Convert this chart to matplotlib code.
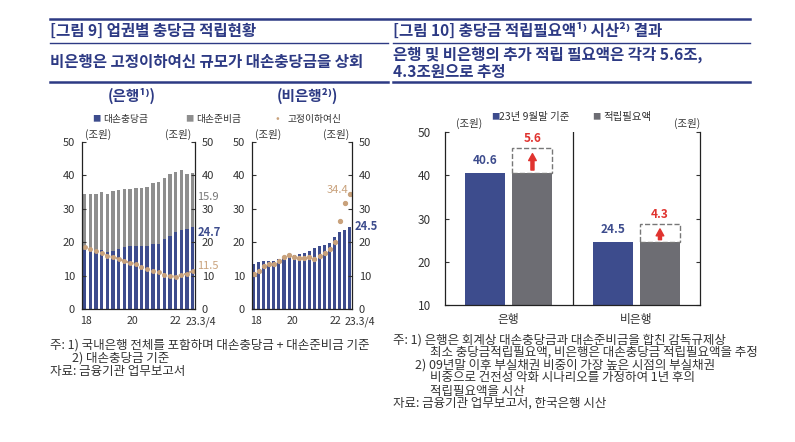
import numpy as np
import matplotlib.pyplot as plt
from matplotlib.lines import Line2D

plt.rcParams['font.family'] = ['Noto Sans CJK KR', 'DejaVu Sans']

W, H = 795, 442

# [그림 9] quarterly, 18 ~ 23.3/4 (조원)
bank_total = [34.5, 34.5, 34.5, 35.0, 34.5, 35.4, 35.5, 35.8, 36.0, 36.2,
              36.3, 36.5, 37.7, 38.0, 39.2, 40.5, 41.0, 41.5, 40.3, 40.6]
bank_allow = [17.8, 17.5, 17.5, 17.8, 17.0, 17.5, 18.0, 18.5, 19.0, 19.0,
              19.0, 18.8, 19.5, 19.5, 21.0, 22.0, 23.0, 23.8, 24.0, 24.7]
bank_npl = [18.5, 18.0, 17.3, 16.8, 16.0, 15.5, 15.0, 14.3, 13.8, 13.5,
            12.5, 12.0, 11.5, 11.0, 10.3, 9.8, 9.7, 10.2, 10.6, 11.5]
nonbank_allow = [13.5, 14.0, 14.3, 14.5, 14.5, 15.0, 15.5, 16.3, 16.3, 16.5,
                 16.8, 17.3, 18.2, 18.8, 19.2, 19.8, 21.7, 23.0, 23.8, 24.5]
nonbank_npl = [10.4, 11.5, 12.9, 13.4, 13.5, 14.5, 15.5, 16.2, 15.5, 15.2,
               15.2, 15.5, 15.0, 15.9, 16.7, 17.9, 20.2, 26.4, 31.6, 34.4]
x_tick_labels = ['18', '20', '22', '23.3/4']

# [그림 10]
groups = ['은행', '비은행']
current = [40.6, 24.5]
additional = [5.6, 4.3]

NAVY = '#3D4C8D'
GRAY = '#8E8E8E'
DGRAY = '#6D6D73'
TAN = '#C9A27C'
RED = '#E0332F'
TITLE = '#2D3A84'
TXT = '#333333'

fig = plt.figure(figsize=(W / 100, H / 100), dpi=100)


def px_axes(l, t, r, b):
    return fig.add_axes([l / W, 1 - b / H, (r - l) / W, (b - t) / H])


def ftext(x, y, s, **kw):
    kw.setdefault('va', 'center')
    kw.setdefault('color', TXT)
    fig.text(x / W, 1 - y / H, s, **kw)


def hline(x1, x2, y, lw, color=TITLE):
    fig.add_artist(Line2D([x1 / W, x2 / W], [1 - y / H, 1 - y / H], color=color, lw=lw))


# header boxes
hline(50, 750, 19, 1.8)
hline(50, 388, 43, 1.0)
hline(393, 750, 43, 1.0)
hline(50, 388, 82, 1.8)
hline(393, 750, 82, 1.8)

TF = 11.2
ftext(50, 31, '[그림 9] 업권별 충당금 적립현황', fontsize=TF, fontweight='bold', color=TITLE)
ftext(50, 62, '비은행은 고정이하여신 규모가 대손충당금을 상회', fontsize=TF, fontweight='bold', color=TITLE)
ftext(393, 31, '[그림 10] 충당금 적립필요액¹⁾ 시산²⁾ 결과', fontsize=TF, fontweight='bold', color=TITLE)
ftext(393, 55, '은행 및 비은행의 추가 적립 필요액은 각각 5.6조,', fontsize=TF, fontweight='bold', color=TITLE)
ftext(393, 72, '4.3조원으로 추정', fontsize=TF, fontweight='bold', color=TITLE)

# left panel headings and legend
ftext(132, 96, '(은행¹⁾)', fontsize=10.5, fontweight='bold', color=TITLE, ha='center')
ftext(307, 96, '(비은행²⁾)', fontsize=10.5, fontweight='bold', color=TITLE, ha='center')
ftext(92, 119, '■', fontsize=6, color=NAVY)
ftext(103, 119, '대손충당금', fontsize=7)
ftext(185, 119, '■', fontsize=6, color=GRAY)
ftext(196, 119, '대손준비금', fontsize=7)
ftext(276, 119, '•', fontsize=8, color=TAN)
ftext(287, 119, '고정이하여신', fontsize=7)


def style_left(ax, xlim, label_pos):
    ax.set_ylim(0, 50)
    ax.set_xlim(*xlim)
    ax.set_yticks(range(0, 51, 10))
    ax.set_xticks([])
    for p, lab in zip(label_pos, x_tick_labels):
        ax.text(p, -2.2, lab, ha='center', va='top', fontsize=7.6, color=TXT)
    ax.spines['top'].set_visible(False)
    for s in ['left', 'right', 'bottom']:
        ax.spines[s].set_color('#222222')
        ax.spines[s].set_linewidth(0.9)
    ax.tick_params(axis='y', direction='in', length=3, labelsize=8, colors=TXT,
                   right=True, labelright=True, pad=5)
    ax.text(0.03, 1.01, '(조원)', transform=ax.transAxes, fontsize=7.5, color=TXT, va='bottom')
    ax.text(0.97, 1.01, '(조원)', transform=ax.transAxes, fontsize=7.5, color=TXT, va='bottom', ha='right')


# 은행
ax1 = px_axes(82, 142, 195, 309)
x = np.arange(len(bank_total))
reserve = np.array(bank_total) - np.array(bank_allow)
ax1.bar(x, bank_allow, width=0.6, color=NAVY)
ax1.bar(x, reserve, bottom=bank_allow, width=0.6, color=GRAY)
ax1.plot(x, bank_npl, ls=':', lw=1.5, color=TAN, marker='o', ms=2.5)
style_left(ax1, (-0.45, 19.4), [0.3, 8.4, 15.9, 20.4])
ax1.text(1.02, 33.6, '15.9', transform=ax1.get_yaxis_transform(), fontsize=8, color='#777777', va='center')
ax1.text(1.02, 23.0, '24.7', transform=ax1.get_yaxis_transform(), fontsize=8, color=NAVY, va='center', fontweight='bold')
ax1.text(1.02, 12.8, '11.5', transform=ax1.get_yaxis_transform(), fontsize=8, color=TAN, va='center')

# 비은행
ax2 = px_axes(252, 142, 352, 309)
x2 = np.arange(len(nonbank_allow))
ax2.bar(x2, nonbank_allow, width=0.6, color=NAVY)
ax2.plot(x2, nonbank_npl, ls='none', color=TAN, marker='o', ms=2.8)
style_left(ax2, (-0.3, 19.4), [0.45, 7.7, 16.1, 21.0])
ax2.text(18.6, 35.5, '34.4', fontsize=8, color=TAN, ha='right', va='center')
ax2.text(1.03, 24.8, '24.5', transform=ax2.get_yaxis_transform(), fontsize=8, color=NAVY, va='center', fontweight='bold')

# 그림 10
ax3 = px_axes(445, 132, 700, 305)
gx = np.arange(len(groups))
off, bw = 0.186, 0.314
ax3.bar(gx - off, current, width=bw, color=NAVY)
ax3.bar(gx + off, current, width=bw, color=DGRAY)
ax3.bar(gx + off, additional, bottom=current, width=bw, fill=False,
        edgecolor='#777777', linestyle='--', lw=1.0)
for i in range(len(groups)):
    ax3.text(gx[i] - off, current[i] + 1.4, f'{current[i]:.1f}', ha='center', va='bottom',
             fontsize=8.5, fontweight='bold', color=NAVY)
    top = current[i] + additional[i]
    ax3.text(gx[i] + off, top + 0.7, f'{additional[i]:.1f}', ha='center', va='bottom',
             fontsize=8.5, fontweight='bold', color=RED)
    ax3.annotate('', xy=(gx[i] + off, top - 1.2), xytext=(gx[i] + off, current[i] + 0.6),
                 arrowprops=dict(arrowstyle='simple,head_length=0.5,head_width=0.55,tail_width=0.22',
                                 color=RED, shrinkA=0, shrinkB=0))
ax3.axvline(0.5, color='#222222', lw=0.9)
ax3.set_xlim(-0.5, 1.5)
ax3.set_ylim(10, 50)
ax3.set_yticks(range(10, 51, 10))
ax3.set_xticks(gx)
ax3.set_xticklabels(groups)
ax3.spines['top'].set_visible(False)
for s in ['left', 'right', 'bottom']:
    ax3.spines[s].set_color('#222222')
    ax3.spines[s].set_linewidth(0.9)
ax3.tick_params(axis='y', direction='in', length=3, labelsize=8.5, colors=TXT,
                right=True, labelright=False, pad=10)
ax3.tick_params(axis='x', length=0, labelsize=8.5, colors=TXT, pad=6)
ax3.text(0.045, 1.02, '(조원)', transform=ax3.transAxes, fontsize=7.5, color=TXT, va='bottom')
ax3.text(1.0, 1.02, '(조원)', transform=ax3.transAxes, fontsize=7.5, color=TXT, va='bottom', ha='right')
ftext(491, 117, '■', fontsize=6, color=NAVY)
ftext(499, 117, '23년 9월말 기준', fontsize=7.5)
ftext(592, 117, '■', fontsize=6, color=DGRAY)
ftext(603, 117, '적립필요액', fontsize=7.5)

# notes
NF = 9
ftext(50, 345, '주: 1) 국내은행 전체를 포함하며 대손충당금 + 대손준비금 기준', fontsize=NF)
ftext(72, 358, '2) 대손충당금 기준', fontsize=NF)
ftext(50, 371, '자료: 금융기관 업무보고서', fontsize=NF)

ftext(393, 340, '주: 1) 은행은 회계상 대손충당금과 대손준비금을 합친 감독규제상', fontsize=NF)
ftext(430, 352, '최소 충당금적립필요액, 비은행은 대손충당금 적립필요액을 추정', fontsize=NF)
ftext(415, 365, '2) 09년말 이후 부실채권 비중이 가장 높은 시점의 부실채권', fontsize=NF)
ftext(430, 378, '비중으로 건전성 악화 시나리오를 가정하여 1년 후의', fontsize=NF)
ftext(430, 391, '적립필요액을 시산', fontsize=NF)
ftext(393, 403, '자료: 금융기관 업무보고서, 한국은행 시산', fontsize=NF)

fig.savefig('out.png', dpi=100, facecolor='white')
